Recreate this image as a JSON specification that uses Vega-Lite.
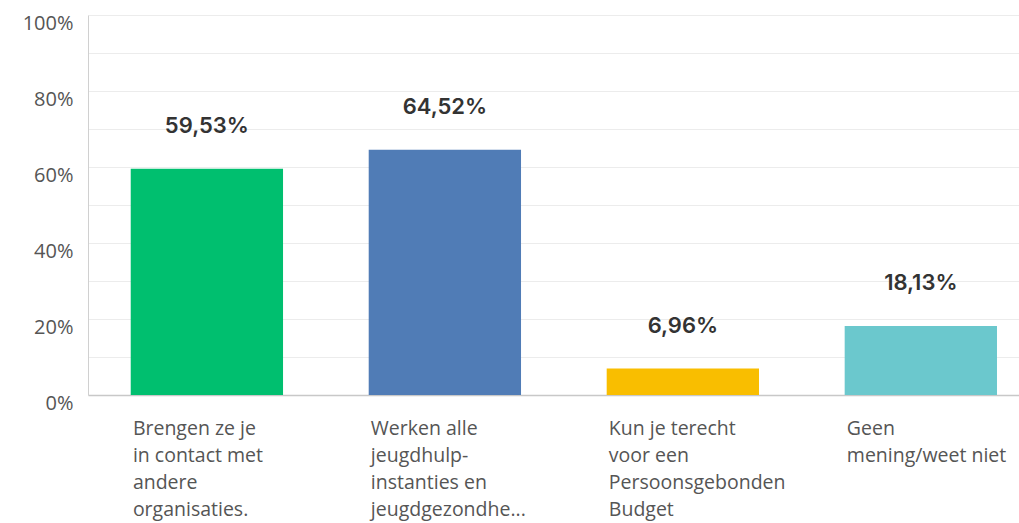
{
  "$schema": "https://vega.github.io/schema/vega-lite/v6.json",
  "width": 931,
  "height": 380,
  "autosize": "none",
  "padding": {"left": 88, "top": 15, "right": 0, "bottom": 128},
  "background": "white",
  "config": {"view": {"stroke": null}, "font": "Inter"},
  "data": {"values": [
    {"cat": "Brengen ze je|in contact met|andere|organisaties.", "pct": 59.53, "label": "59,53%"},
    {"cat": "Werken alle|jeugdhulp-|instanties en|jeugdgezondhe...", "pct": 64.52, "label": "64,52%"},
    {"cat": "Kun je terecht|voor een|Persoonsgebonden|Budget", "pct": 6.96, "label": "6,96%"},
    {"cat": "Geen|mening/weet niet", "pct": 18.13, "label": "18,13%"}
  ]},
  "encoding": {
    "x": {
      "field": "cat", "type": "nominal", "sort": null,
      "scale": {"paddingInner": 0.36, "paddingOuter": 0.136, "align": 0.66},
      "axis": {
        "title": null, "labelAngle": 0, "labelAlign": "left", "labelOffset": -74,
        "labelExpr": "split(datum.label, '|')", "ticks": false, "labelPadding": 24,
        "labelBaseline": "top", "labelLineHeight": 27, "labelFontSize": 19.5, "labelFont": "Open Sans",
        "labelColor": "#555555", "labelLimit": 0, "domainColor": "#c8c8c8", "domainWidth": 1.5
      }
    },
    "y": {
      "field": "pct", "type": "quantitative",
      "scale": {"domain": [0, 100]},
      "axis": {
        "title": null, "values": [0, 10, 20, 30, 40, 50, 60, 70, 80, 90, 100],
        "labelExpr": "datum.value % 20 == 0 ? datum.value + '%' : ''",
        "grid": true, "gridColor": "#ececec", "domainColor": "#d0d0d0",
        "ticks": false, "labelPadding": 15, "labelOffset": 8, "labelFontSize": 20, "labelFont": "Open Sans",
        "labelColor": "#555555"
      }
    }
  },
  "layer": [
    {
      "mark": {"type": "bar"},
      "encoding": {
        "color": {
          "field": "cat", "type": "nominal", "sort": null, "legend": null,
          "scale": {"range": ["#00bf6f", "#507cb6", "#f9be00", "#6bc8cd"]}
        }
      }
    },
    {
      "mark": {"type": "text", "baseline": "bottom", "dy": -31, "fontSize": 22, "fontWeight": 600, "color": "#333333"},
      "encoding": {"text": {"field": "label"}}
    }
  ]
}
